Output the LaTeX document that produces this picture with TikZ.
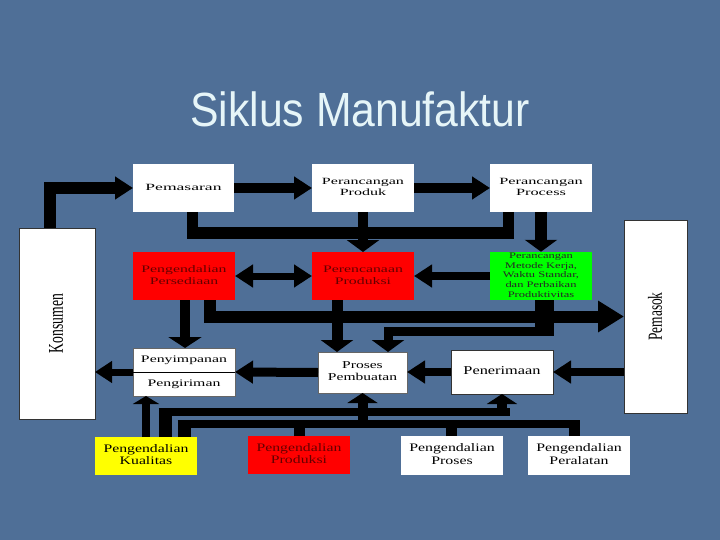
\documentclass[tikz,border=0pt]{standalone}
\usepackage{fontspec}
\usepackage{graphicx}
\setmainfont{Liberation Serif}
\newfontfamily\titlefont{Liberation Sans}
\usetikzlibrary{arrows.meta,calc}
\definecolor{bgc}{RGB}{79,111,151}
\definecolor{boxred}{RGB}{255,0,0}
\definecolor{boxgreen}{RGB}{0,255,0}
\definecolor{boxyellow}{RGB}{255,255,0}
\definecolor{redtext}{RGB}{100,0,0}
\definecolor{titlec}{RGB}{230,245,248}
\newcommand{\bt}[4]{\scalebox{#1}[1]{\fontsize{#2}{#3}\selectfont\begin{tabular}{@{}c@{}}#4\end{tabular}}}
\tikzset{
  box/.style={rectangle, inner sep=0pt, outer sep=0pt, fill=white, align=center},
  plain/.style={inner sep=0pt, outer sep=0pt},
  conn/.style={draw=black, line join=miter, line cap=butt},
  harrow/.style={-{Triangle[length=18pt,width=22pt]}},
  darrow/.style={-{Triangle[length=12pt,width=32pt]}},
  uarrow/.style={-{Triangle[length=10pt,width=30pt]}},
}
\begin{document}
\begin{tikzpicture}[x=1pt,y=-1pt]
\fill[bgc] (0,0) rectangle (720,540);
\useasboundingbox (0,0) rectangle (720,540);

% title
\node[plain, anchor=base, text=titlec, font=\titlefont\fontsize{48}{48}\selectfont] (title) at (360,127) {\scalebox{0.89}[1]{Siklus Manufaktur}};

% row 1
\node[box, minimum width=101pt, minimum height=48pt] (pem) at (183.5,188) {\bt{1.85}{9.5}{11}{Pemasaran}};
\node[box, minimum width=102pt, minimum height=48pt] (prk) at (363,188) {\raisebox{-1pt}{\bt{1.69}{9.5}{11}{Perancangan\\Produk}}};
\node[box, minimum width=102pt, minimum height=48pt] (prs) at (541,188) {\raisebox{-1pt}{\bt{1.72}{9.5}{11}{Perancangan\\Process}}};

% side boxes
\node[box, draw=black!80, line width=0.6pt, minimum width=76pt, minimum height=191pt] (kon) at (57,323.5) {};
\node[plain, rotate=90, font=\fontsize{21}{21}\selectfont] (konT) at (56,323.5) {\scalebox{0.65}[1]{Konsumen}};
\node[box, draw=black!80, line width=0.6pt, minimum width=63pt, minimum height=193pt] (pms) at (655.5,316.5) {};
\node[plain, rotate=90, font=\fontsize{20}{20}\selectfont] (pmsT) at (655,316.5) {\scalebox{0.67}[1]{Pemasok}};

% row 2
\node[box, fill=boxred, text=redtext, minimum width=102pt, minimum height=48pt] (pps) at (184,276) {\bt{1.58}{10}{12.5}{Pengendalian\\Persediaan}};
\node[box, fill=boxred, text=redtext, minimum width=102pt, minimum height=48pt] (ppr) at (363,276) {\bt{1.58}{10}{12.5}{Perencanaan\\Produksi}};
\node[box, fill=boxgreen, text=black!85, minimum width=102pt, minimum height=48pt] (pmk) at (541,276) {\bt{1.45}{8.6}{9.7}{Perancangan\\Metode Kerja,\\Waktu Standar,\\dan Perbaikan\\Produktivitas}};

% row 3
\node[box, draw=black!60, line width=0.4pt, minimum width=102pt, minimum height=48pt] (pny) at (184,372) {};
\draw[black, line width=0.8pt] (pny.west) -- (pny.east);
\node[plain] (pnyA) at (184,360.5) {\bt{1.58}{10}{12}{Penyimpanan}};
\node[plain] (pnyB) at (184,384) {\bt{1.58}{10}{12}{Pengiriman}};
\node[box, draw=black!60, line width=0.4pt, minimum width=89pt, minimum height=41pt] (pbt) at (362.5,372.5) {\bt{1.48}{10.5}{12}{Proses\\Pembuatan}};
\node[box, draw=black!80, line width=0.8pt, minimum width=102pt, minimum height=44pt] (pnr) at (502,372) {\bt{1.36}{12}{13}{Penerimaan}};

% row 4
\node[box, fill=boxyellow, minimum width=102pt, minimum height=38pt] (pkl) at (146,456) {\bt{1.37}{11.5}{12}{Pengendalian\\Kualitas}};
\node[box, fill=boxred, text=redtext, minimum width=102pt, minimum height=38pt] (ppd) at (299,455) {\bt{1.37}{11.5}{12}{Pengendalian\\Produksi}};
\node[box, minimum width=102pt, minimum height=39pt] (ppo) at (452,455.5) {\bt{1.38}{11.5}{12.5}{Pengendalian\\Proses}};
\node[box, minimum width=102pt, minimum height=39pt] (ppl) at (579,455.5) {\bt{1.38}{11.5}{12.5}{Pengendalian\\Peralatan}};

% connectors: top
\draw[conn, line width=12pt, harrow] ([xshift=-7pt]kon.north) |- (pem.west);
\draw[conn, line width=10pt, harrow] (pem.east) -- (prk.west);
\draw[conn, line width=10pt, harrow] (prk.east) -- (prs.west);
\draw[conn, line width=11pt] ([xshift=8.5pt]pem.south) -- ++(0,21) -| ([xshift=-33pt]prs.south);
\draw[conn, line width=10pt, darrow] (prk.south) -- (ppr.north);
\draw[conn, line width=12pt, darrow] (prs.south) -- (pmk.north);

% row 2 links
\draw[conn, line width=7pt, {Triangle[length=18pt,width=22pt]}-{Triangle[length=18pt,width=22pt]}] (pps.east) -- (ppr.west);
\draw[conn, line width=8pt, harrow] (pmk.west) -- (ppr.east);

% row 2 to row 3
\draw[conn, line width=10pt, -{Triangle[length=11pt,width=33pt]}] ([xshift=1pt]pps.south) -- ([xshift=1pt]pny.north);
\draw[conn, line width=12pt, -{Triangle[length=26pt,width=30pt]}] ([xshift=26pt]pps.south) |- (pms.west);
\draw[conn, line width=11pt, darrow] ($(ppr.south)+(-26,0)$) -- ($(pbt.north)+(-25.5,0)$);
\draw[conn, line width=19pt] ($(pmk.south)+(3,0)$) -- ++(0,36);
\draw[conn, line width=9pt, darrow] ($(pmk.south)+(3,0)$) -- ++(0,31) -| ($(pbt.north)+(25.5,0)$);

% row 3 links
\draw[conn, line width=9pt, harrow] (pbt.west) -- (pny.east);
\draw[conn, line width=7pt, -{Triangle[length=17pt,width=21pt]}] (pny.west) -- (kon.east |- pny.west);
\draw[conn, line width=8pt, harrow] (pnr.west) -- (pbt.east |- pnr.west);
\draw[conn, line width=8pt, harrow] (pms.west |- pnr.east) -- (pnr.east);

% bottom network
\draw[conn, line width=8pt, -{Triangle[length=8pt,width=26pt]}] (pkl.north) -- (pkl.north |- pny.south);
\draw[conn, line width=13pt] ($(pkl.north)+(19,0)$) -- ++(0,-29);
\draw[conn, line width=8pt] ($(pkl.north)+(12.5,-25)$) -- ++(351.5,0);
\draw[conn, line width=13pt] ($(pkl.north)+(38,0)$) -- ++(0,-17);
\draw[conn, line width=8pt] ($(pkl.north)+(31.5,-13)$) -- ++(402.5,0);
\draw[conn, line width=10pt, uarrow] ($(pbt.south)+(0,31)$) -- (pbt.south);
\draw[conn, line width=10pt, uarrow] ($(pnr.south)+(0,18)$) -- (pnr.south);
\draw[conn, line width=11pt] (ppd.north) -- ++(0,-12);
\draw[conn, line width=11pt] ($(ppo.north)+(-1,0)$) -- ++(0,-12);
\draw[conn, line width=11pt] ($(ppl.north)+(-5,0)$) -- ++(0,-12);
\end{tikzpicture}
\end{document}
